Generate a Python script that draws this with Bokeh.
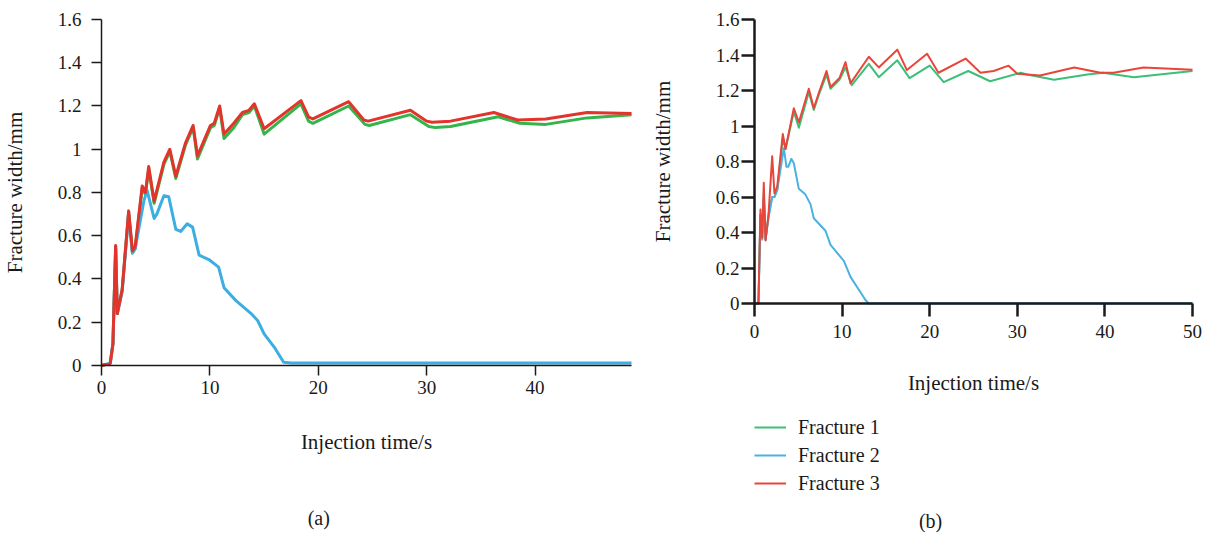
from bokeh.plotting import figure
from bokeh.layouts import row
from bokeh.models import FixedTicker, Legend, LegendItem, Label
from bokeh.embed import file_html
from bokeh.resources import INLINE

FONT = "Liberation Serif"

series_names = ["Fracture 1", "Fracture 2", "Fracture 3"]
x_title = "Injection time/s"
y_title = "Fracture width/mm"
captions = ["(a)", "(b)"]

y_ticks = [0, 0.2, 0.4, 0.6, 0.8, 1, 1.2, 1.4, 1.6]
y_tick_labels = ["0", "0.2", "0.4", "0.6", "0.8", "1", "1.2", "1.4", "1.6"]
a_x_ticks = [0, 10, 20, 30, 40]
b_x_ticks = [0, 10, 20, 30, 40, 50]
a_x_extent = (0, 48.9)
b_x_extent = (0, 50)
y_extent = (0, 1.6)

# ---- panel (a) ----
a_f1_t = [0, 0.8, 1.05, 1.3, 1.45, 1.9, 2.5, 2.85, 3.1, 3.75, 4.05, 4.35, 4.85, 5.75, 6.3, 6.85, 7.75, 8.45, 8.85, 10.05,
          10.4, 10.9, 11.3, 12.2, 13.0, 13.6, 14.1, 15.0, 18.4, 19.1, 19.5, 22.8, 24.3, 24.7, 28.5, 30.2, 30.8, 32.2,
          36.6, 38.6, 41.0, 44.8, 48.9]
a_f1_v = [0, 0.01, 0.1, 0.55, 0.24, 0.35, 0.71, 0.52, 0.54, 0.82, 0.79, 0.91, 0.75, 0.93, 0.99, 0.865, 1.02, 1.10, 0.955,
          1.10, 1.11, 1.19, 1.05, 1.10, 1.16, 1.17, 1.20, 1.07, 1.21, 1.13, 1.12, 1.20, 1.115, 1.11, 1.16, 1.105, 1.10,
          1.105, 1.15, 1.12, 1.115, 1.145, 1.16]

a_f2_t = [0, 0.8, 1.05, 1.3, 1.45, 1.9, 2.5, 2.85, 3.1, 3.9, 4.2, 4.85, 5.1, 5.75, 6.2, 6.85, 7.3, 7.9, 8.4, 9.0, 9.9,
          10.8, 11.3, 12.4, 13.8, 14.4, 15.0, 16.0, 16.8, 17.5, 48.9]
a_f2_v = [0, 0.01, 0.1, 0.54, 0.24, 0.34, 0.70, 0.52, 0.54, 0.76, 0.81, 0.68, 0.70, 0.785, 0.78, 0.63, 0.62, 0.655, 0.64,
          0.51, 0.49, 0.455, 0.36, 0.30, 0.24, 0.208, 0.146, 0.08, 0.015, 0.012, 0.012]

a_f3_t = [0, 0.8, 1.05, 1.3, 1.45, 1.9, 2.5, 2.85, 3.1, 3.75, 4.05, 4.35, 4.85, 5.75, 6.3, 6.85, 7.75, 8.45, 8.85, 10.05,
          10.4, 10.9, 11.3, 12.2, 13.0, 13.6, 14.1, 15.0, 18.4, 19.1, 19.5, 22.8, 24.2, 24.6, 28.5, 30.0, 30.5, 32.2,
          36.2, 38.4, 41.0, 44.8, 48.9]
a_f3_v = [0, 0.01, 0.1, 0.555, 0.24, 0.35, 0.715, 0.53, 0.55, 0.83, 0.8, 0.92, 0.76, 0.94, 1.0, 0.875, 1.03, 1.11, 0.97,
          1.11, 1.12, 1.2, 1.07, 1.12, 1.17, 1.18, 1.21, 1.095, 1.225, 1.15, 1.14, 1.22, 1.135, 1.13, 1.18, 1.13, 1.125,
          1.13, 1.17, 1.135, 1.14, 1.17, 1.165]

# ---- panel (b) ----
b_f1_t = [0, 0.45, 0.68, 0.88, 1.06, 1.26, 1.6, 2.02, 2.28, 2.6, 3.23, 3.54, 4.49, 5.06, 6.2, 6.77, 7.3, 8.22, 8.68, 9.7,
          10.39, 11.1, 13.05, 14.19, 16.3, 17.7, 20.0, 21.6, 24.4, 26.9, 30.4, 31.1, 34.2, 38.0, 39.8, 43.3, 50]
b_f1_v = [0, 0, 0.5, 0.37, 0.62, 0.36, 0.5, 0.6, 0.6, 0.64, 0.93, 0.87, 1.08, 0.99, 1.19, 1.09, 1.17, 1.29, 1.21, 1.26,
          1.33, 1.23, 1.35, 1.275, 1.37, 1.27, 1.34, 1.247, 1.31, 1.252, 1.30, 1.29, 1.26, 1.29, 1.30, 1.275, 1.31]

b_f2_t = [0, 0.45, 0.68, 0.88, 1.06, 1.26, 1.6, 2.02, 2.28, 2.6, 3.35, 3.65, 3.85, 4.2, 4.49, 5.06, 5.8, 6.39, 6.77, 8.1,
          8.68, 10.2, 10.96, 12.67, 13.05, 50]
b_f2_v = [0, 0, 0.5, 0.36, 0.6, 0.36, 0.48, 0.6, 0.6, 0.64, 0.875, 0.77, 0.77, 0.815, 0.79, 0.646, 0.615, 0.56, 0.48,
          0.41, 0.33, 0.24, 0.15, 0.02, 0.0, 0.0]

b_f3_t = [0, 0.45, 0.68, 0.88, 1.06, 1.26, 1.6, 2.02, 2.28, 2.6, 3.23, 3.54, 4.49, 5.06, 6.2, 6.77, 7.3, 8.22, 8.68, 9.7,
          10.39, 10.96, 13.05, 14.19, 16.3, 17.4, 19.7, 21.0, 24.1, 25.8, 27.3, 29.0, 30.0, 32.6, 36.5, 39.5, 41.0, 44.4,
          50]
b_f3_v = [0, 0, 0.53, 0.37, 0.68, 0.355, 0.5, 0.83, 0.62, 0.66, 0.955, 0.87, 1.10, 1.02, 1.21, 1.10, 1.18, 1.31, 1.22,
          1.27, 1.36, 1.24, 1.39, 1.33, 1.43, 1.315, 1.407, 1.30, 1.38, 1.30, 1.31, 1.34, 1.294, 1.285, 1.33, 1.30, 1.30,
          1.33, 1.317]

a_colors = ["#34b54c", "#3caee2", "#e3342b"]
b_colors = ["#3cbf78", "#4ab2e2", "#e8463a"]


def style(p, x_ticks, x_ext, axis_w, tick_len, ylab_standoff, ytitle_standoff, xlab_standoff, xtitle_standoff):
    p.outline_line_color = None
    p.grid.visible = False
    p.background_fill_color = "white"
    p.border_fill_color = "white"
    for ax in (p.xaxis[0], p.yaxis[0]):
        ax.fixed_location = 0
        ax.axis_line_color = "#1a1a1a"
        ax.axis_line_width = axis_w
        ax.major_tick_line_color = "#1a1a1a"
        ax.major_tick_line_width = axis_w
        ax.major_tick_out = tick_len
        ax.major_tick_in = 0
        ax.minor_tick_out = 0
        ax.minor_tick_in = 0
        ax.major_label_text_font = FONT
        ax.major_label_text_font_size = "19px"
        ax.major_label_text_color = "#1a1a1a"
        ax.axis_label_text_font = FONT
        ax.axis_label_text_font_size = "21px"
        ax.axis_label_text_font_style = "normal"
        ax.axis_label_text_color = "#1a1a1a"
    p.yaxis[0].bounds = y_extent
    p.xaxis[0].bounds = x_ext
    p.yaxis[0].ticker = FixedTicker(ticks=y_ticks)
    p.yaxis[0].major_label_overrides = dict(zip(y_ticks, y_tick_labels))
    p.xaxis[0].ticker = FixedTicker(ticks=x_ticks)
    p.xaxis[0].major_label_overrides = {t: str(t) for t in x_ticks}
    p.yaxis[0].axis_label = y_title
    p.xaxis[0].axis_label = x_title
    p.yaxis[0].major_label_standoff = ylab_standoff
    p.yaxis[0].axis_label_standoff = ytitle_standoff
    p.xaxis[0].major_label_standoff = xlab_standoff
    p.xaxis[0].axis_label_standoff = xtitle_standoff


# Panel (a): the frame spans the whole canvas, axes are pinned at 0
pa = figure(width=640, height=535, x_range=(-9.141, 49.546), y_range=(-0.7723, 1.6786),
            min_border_left=2, min_border_right=2, min_border_top=2, min_border_bottom=3,
            output_backend="svg", toolbar_location=None)
pa.frame_align = False
style(pa, a_x_ticks, a_x_extent, 1.5, 10, 10, 28, 6, 32)
pa.line(a_f1_t, a_f1_v, line_color=a_colors[0], line_width=3, line_join="round")
pa.line(a_f2_t, a_f2_v, line_color=a_colors[1], line_width=3, line_join="round")
pa.line(a_f3_t, a_f3_v, line_color=a_colors[2], line_width=3, line_join="round")
pa.add_layout(Label(x=20.04, y=-0.7075, text=captions[0], text_font=FONT, text_font_size="20px",
                    text_align="center", text_baseline="middle", text_color="#1a1a1a"))

# Panel (b)
pb = figure(width=572, height=535, x_range=(-12.785, 52.055), y_range=(-1.2901, 1.6958),
            min_border_left=2, min_border_right=2, min_border_top=2, min_border_bottom=3,
            output_backend="svg", toolbar_location=None)
pb.frame_align = False
style(pb, b_x_ticks, b_x_extent, 2.5, 13, 2, 38, 8, 30)
r1 = pb.line(b_f1_t, b_f1_v, line_color=b_colors[0], line_width=2, line_join="round")
r2 = pb.line(b_f2_t, b_f2_v, line_color=b_colors[1], line_width=2, line_join="round")
r3 = pb.line(b_f3_t, b_f3_v, line_color=b_colors[2], line_width=2, line_join="round")

items = [LegendItem(label=n, renderers=[r]) for n, r in zip(series_names, [r1, r2, r3])]
legend = Legend(items=items, location=(112, 37.5), orientation="vertical",
                padding=0, margin=0, spacing=5, glyph_height=20, glyph_width=32, label_standoff=12,
                label_text_font=FONT, label_text_font_size="20px", label_text_color="#1a1a1a",
                border_line_color=None, background_fill_alpha=0)
pb.add_layout(legend, "center")
pb.add_layout(Label(x=20.1, y=-1.2225, text=captions[1], text_font=FONT, text_font_size="20px",
                    text_align="center", text_baseline="middle", text_color="#1a1a1a"))

layout = row(pa, pb, spacing=0)
open("out.html", "w").write(file_html(layout, INLINE))
